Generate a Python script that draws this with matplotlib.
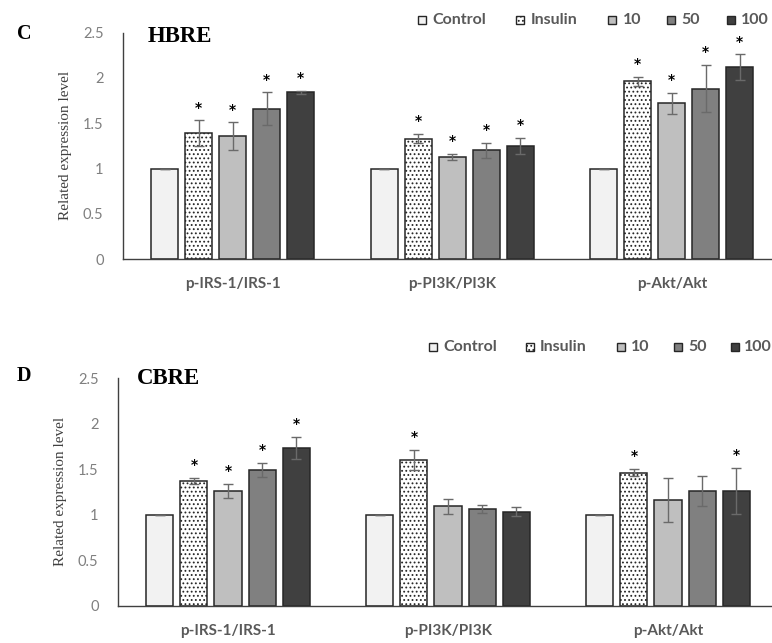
import numpy as np
import matplotlib.pyplot as plt
from matplotlib.patches import Rectangle

# categories and groups
categories = ['p-IRS-1/IRS-1', 'p-PI3K/PI3K', 'p-Akt/Akt']
groups = ['Control', 'Insulin', '10', '50', '100']

# panel C (HBRE): means and errors per group, one value per category
hbre_mean = {
    'Control': [1.0, 1.0, 1.0],
    'Insulin': [1.39, 1.33, 1.96],
    '10': [1.36, 1.13, 1.72],
    '50': [1.66, 1.20, 1.88],
    '100': [1.84, 1.25, 2.12],
}
hbre_err = {
    'Control': [0.0, 0.0, 0.0],
    'Insulin': [0.14, 0.05, 0.05],
    '10': [0.15, 0.035, 0.115],
    '50': [0.18, 0.08, 0.26],
    '100': [0.02, 0.09, 0.14],
}
hbre_star = {
    'Control': [False, False, False],
    'Insulin': [True, True, True],
    '10': [True, True, True],
    '50': [True, True, True],
    '100': [True, True, True],
}

# panel D (CBRE)
cbre_mean = {
    'Control': [1.0, 1.0, 1.0],
    'Insulin': [1.37, 1.60, 1.46],
    '10': [1.26, 1.09, 1.16],
    '50': [1.49, 1.06, 1.26],
    '100': [1.73, 1.03, 1.26],
}
cbre_err = {
    'Control': [0.0, 0.0, 0.0],
    'Insulin': [0.035, 0.11, 0.04],
    '10': [0.075, 0.085, 0.24],
    '50': [0.08, 0.045, 0.16],
    '100': [0.12, 0.05, 0.255],
}
cbre_star = {
    'Control': [False, False, False],
    'Insulin': [True, True, True],
    '10': [True, False, False],
    '50': [True, False, False],
    '100': [True, False, True],
}

colors = {'Control': '#f2f2f2', 'Insulin': '#ffffff', '10': '#bfbfbf',
          '50': '#808080', '100': '#404040'}
hatches = {'Control': None, 'Insulin': '....', '10': None, '50': None, '100': None}

plt.rcParams['hatch.color'] = '#a6a6a6'
plt.rcParams['hatch.linewidth'] = 0.8

SANS = ['Lato', 'DejaVu Sans']
SERIF = ['Liberation Serif', 'DejaVu Serif']
TXT = '#595959'


def draw_panel(ax, means, errs, stars):
    x = np.arange(len(categories))
    width = 0.123
    step = 0.155
    for i, g in enumerate(groups):
        pos = x + (i - 2) * step
        ax.bar(pos, means[g], width, color=colors[g], hatch=hatches[g],
               edgecolor='#262626', linewidth=1.1, zorder=2)
        ax.errorbar(pos, means[g], yerr=errs[g], fmt='none', ecolor='#6a6a6a',
                    elinewidth=1.0, capsize=3.5, capthick=1.0, zorder=3)
        for p, m, e, s in zip(pos, means[g], errs[g], stars[g]):
            if s:
                ax.text(p, m + e + 0.14, '*', ha='center', va='center',
                        fontsize=10, fontweight='bold', color='black')
    ax.set_xlim(-0.5, 2.5)
    ax.set_ylim(0, 2.5)
    ax.set_yticks([0, 0.5, 1, 1.5, 2, 2.5])
    ax.set_yticklabels(['0', '0.5', '1', '1.5', '2', '2.5'], family=SANS,
                       fontsize=10.5, color='#7f7f7f')
    ax.set_xticks(x)
    ax.set_xticklabels(categories, family=SANS, fontsize=11,
                       fontweight='bold', color=TXT)
    ax.tick_params(axis='both', length=0, pad=13)
    ax.tick_params(axis='y', pad=14)
    for s in ['top', 'right']:
        ax.spines[s].set_visible(False)
    for s in ['left', 'bottom']:
        ax.spines[s].set_color('#404040')
        ax.spines[s].set_linewidth(1.0)
    ax.set_ylabel('Related expression level', family=SERIF, fontsize=11,
                  color='#404040', labelpad=8)


def draw_legend(fig, y, box_x, text_x):
    W, H = fig.bbox.width, fig.bbox.height
    s = 8
    for g, bx, tx in zip(groups, box_x, text_x):
        fig.patches.append(Rectangle((bx / W, 1 - (y + s / 2) / H), s / W, s / H,
                                     transform=fig.transFigure, facecolor=colors[g],
                                     hatch=hatches[g], edgecolor='#262626',
                                     linewidth=1.0))
        fig.text(tx / W, 1 - y / H, g, family=SANS, fontsize=11.5,
                 fontweight='bold', color=TXT, va='center', ha='left')


fig = plt.figure(figsize=(7.72, 6.43), dpi=100)
W, H = 772, 643

axC = fig.add_axes([123 / W, 1 - 259.3 / H, 658.5 / W, 226.8 / H])
draw_panel(axC, hbre_mean, hbre_err, hbre_star)
axD = fig.add_axes([118 / W, 1 - 605.7 / H, 660 / W, 227.7 / H])
draw_panel(axD, cbre_mean, cbre_err, cbre_star)

fig.text(17 / W, 1 - 34 / H, 'C', family=SERIF, fontsize=14.5,
         fontweight='bold', va='center')
fig.text(17 / W, 1 - 376 / H, 'D', family=SERIF, fontsize=14.5,
         fontweight='bold', va='center')
fig.text(148 / W, 1 - 37 / H, 'HBRE', family=SERIF, fontsize=16.5,
         fontweight='bold', va='center')
fig.text(137 / W, 1 - 379 / H, 'CBRE', family=SERIF, fontsize=16.5,
         fontweight='bold', va='center')

draw_legend(fig, 20, [418, 516, 608, 667, 727], [432, 531, 623, 681, 741])
draw_legend(fig, 347, [429, 526, 617, 674, 731], [443, 540, 631, 688, 744])

fig.savefig('out.png', dpi=100)
